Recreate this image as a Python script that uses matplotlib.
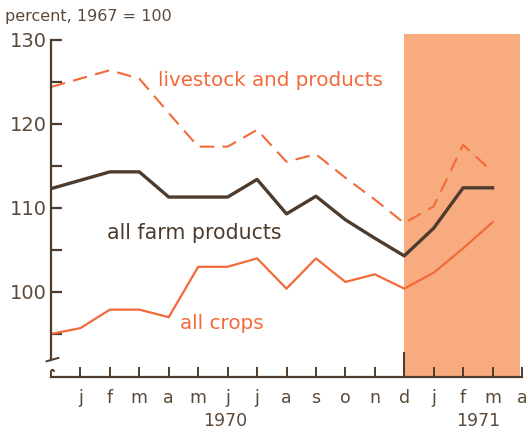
import numpy as np
import matplotlib.pyplot as plt

plt.rcParams['font.family'] = ['DejaVu Sans']

# months: dec 1969 .. apr 1971
months = ["", "j", "f", "m", "a", "m", "j", "j", "a", "s", "o", "n", "d", "j", "f", "m", "a"]
years = ["1970", "1971"]

farm = [112.3, 113.3, 114.3, 114.3, 111.3, 111.3, 111.3, 113.4, 109.3, 111.4,
        108.6, 106.4, 104.3, 107.6, 112.4, 112.4]
livestock = [124.4, 125.4, 126.4, 125.4, 121.3, 117.3, 117.3, 119.3, 115.5, 116.4,
             113.6, 111.0, 108.2, 110.2, 117.5, 114.3]
crops = [95.0, 95.7, 97.9, 97.9, 97.0, 103.0, 103.0, 104.0, 100.4, 104.0,
         101.2, 102.1, 100.4, 102.3, 105.2, 108.3]

brown = "#4d3c2d"
orange = "#f36a3a"
shade = "#f9ab80"
txt_brown = "#5b4a3a"

fig = plt.figure(figsize=(5.28, 4.32), dpi=100)
ax = fig.add_axes([51/528, 55/432, 471/528, 343/432])
x = np.arange(len(farm))

ax.axvspan(12, 15.93, color=shade, lw=0, zorder=0)
ax.plot(x, livestock, color=orange, lw=1.5, dashes=(7, 4))
ax.plot(x, farm, color=brown, lw=2.4)
ax.plot(x, crops, color=orange, lw=1.6)

ax.set_xlim(0, 16)
ax.set_ylim(89.88, 130.71)

for s in ["top", "right"]:
    ax.spines[s].set_visible(False)
ax.spines["left"].set_bounds(91.9, 130)
ax.spines["bottom"].set_bounds(0, 16)
for s in ["left", "bottom"]:
    ax.spines[s].set_color(brown)
    ax.spines[s].set_linewidth(1.6)

ax.set_yticks(np.arange(95, 131, 5))
ax.set_yticklabels(["" if v % 10 else str(v) for v in range(95, 131, 5)])
ax.tick_params(axis="y", direction="in", length=8, width=1.6, color=brown,
               labelsize=14, labelcolor=txt_brown, pad=3)
ax.set_xticks(x[1:].tolist() + [16])
ax.set_xticklabels([])
ax.tick_params(axis="x", direction="in", length=7, width=1.4, color=brown)
ax.plot([12, 12], [89.88, 92.7], color=brown, lw=1.4, clip_on=False)

for i in range(1, 17):
    ax.text(i, 87.4, months[i], ha="center", va="center", fontsize=12.5, color=txt_brown)
ax.text(5.93, 84.6, years[0], ha="center", va="center", fontsize=12.5, color=txt_brown)
ax.text(14.5, 84.6, years[1], ha="center", va="center", fontsize=12.5, color=txt_brown)

# axis break marks
ax.plot([-0.15, 0.25], [91.75, 92.15], color=brown, lw=1.4, clip_on=False)
ax.plot([0.1, 0.05, 0.0, 0.0], [90.6, 90.75, 90.6, 89.88], color=brown, lw=1.4, clip_on=False)

ax.text(3.63, 125.2, "livestock and products", fontsize=14.3, color=orange, va="center")
ax.text(1.9, 107.0, "all farm products", fontsize=14.8, color=brown, va="center")
ax.text(4.38, 96.2, "all crops", fontsize=14.3, color=orange, va="center")

fig.text(5/528, 1 - 17/432, "percent, 1967 = 100", fontsize=11.5, color=txt_brown, va="center")

fig.savefig("out.png", dpi=100)
